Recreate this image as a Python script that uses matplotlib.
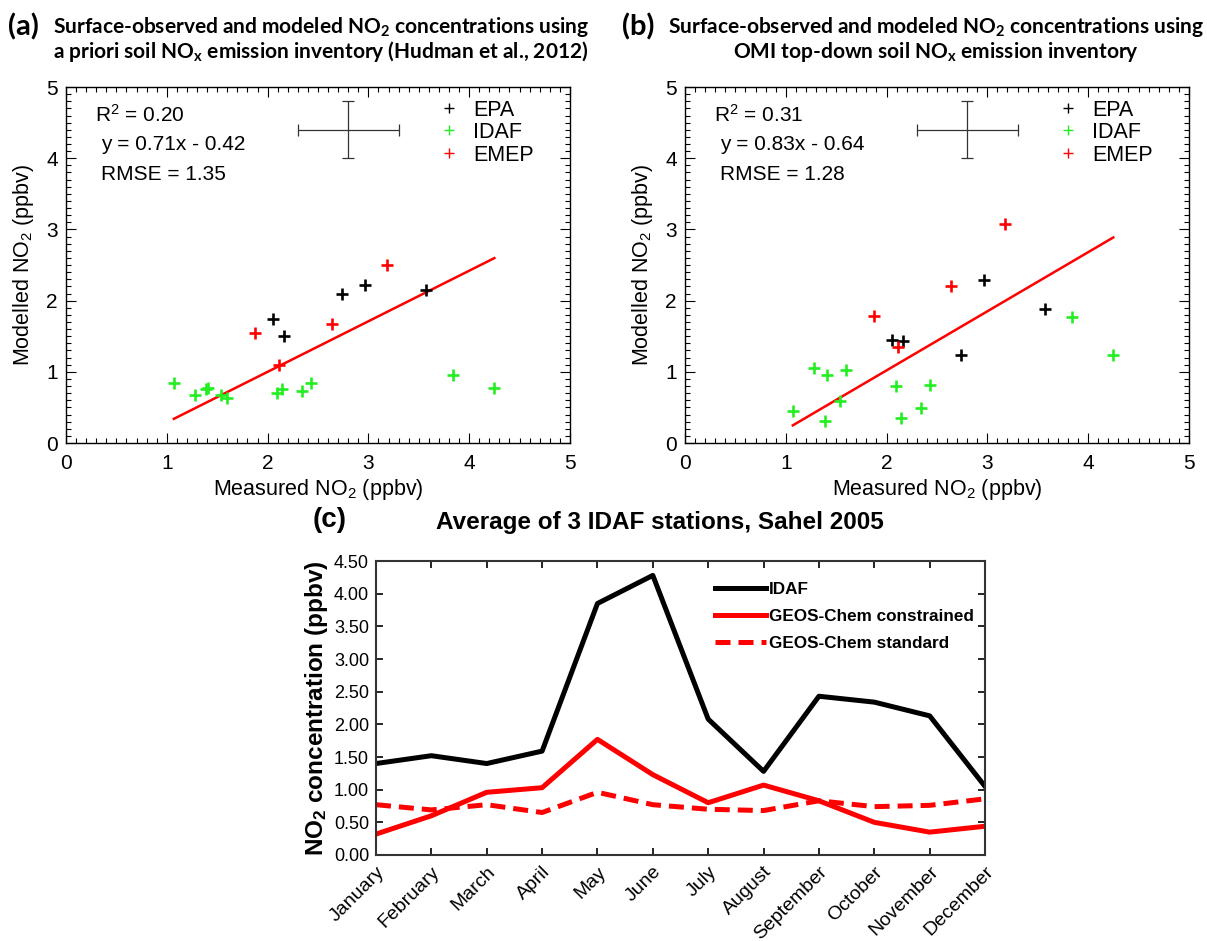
"""Surface-observed vs modelled NO2 over the Sahel: two scatter panels and a monthly series."""

import matplotlib

matplotlib.use("Agg")

import matplotlib.pyplot as plt
from matplotlib.ticker import MultipleLocator, FormatStrFormatter
import numpy as np

plt.rcParams["font.family"] = ["Liberation Sans", "DejaVu Sans"]

# ---- panel (a)/(b) data: measured x, modelled y per network ----
EPA_X = [2.05, 2.16, 2.74, 2.97, 3.57]
EPA_A = [1.74, 1.50, 2.09, 2.22, 2.15]
EPA_B = [1.45, 1.44, 1.24, 2.29, 1.88]

EMEP_X = [1.88, 2.11, 2.64, 3.18]
EMEP_A = [1.54, 1.10, 1.67, 2.50]
EMEP_B = [1.79, 1.35, 2.21, 3.07]

IDAF_X = [1.07, 1.28, 1.39, 1.41, 1.54, 1.60, 2.09, 2.14, 2.34, 2.43, 3.84, 4.25]
IDAF_A = [0.85, 0.67, 0.76, 0.77, 0.67, 0.63, 0.70, 0.76, 0.73, 0.84, 0.96, 0.77]
IDAF_B = [0.45, 1.06, 0.31, 0.96, 0.59, 1.03, 0.80, 0.35, 0.49, 0.82, 1.77, 1.24]

FIT_A = (0.71, -0.42)
FIT_B = (0.83, -0.64)
STATS_A = ("0.20", "y = 0.71x - 0.42", "RMSE = 1.35")
STATS_B = ("0.31", "y = 0.83x - 0.64", "RMSE = 1.28")

# typical uncertainty cross
ERR_CENTER = (2.80, 4.40)
ERR_X, ERR_Y = 0.5, 0.40

# ---- panel (c) data ----
MONTHS = ["January", "February", "March", "April", "May", "June", "July",
          "August", "September", "October", "November", "December"]
IDAF_MONTHLY = [1.40, 1.52, 1.40, 1.59, 3.85, 4.28, 2.08, 1.28, 2.43, 2.34, 2.13, 1.05]
GC_CONSTRAINED = [0.32, 0.60, 0.96, 1.03, 1.77, 1.23, 0.80, 1.07, 0.83, 0.50, 0.35, 0.44]
GC_STANDARD = [0.77, 0.69, 0.77, 0.65, 0.96, 0.77, 0.70, 0.68, 0.83, 0.74, 0.76, 0.86]

GREEN = "#22ee22"
RED = "#ff0000"
TITLE_FONT = ["Lato", "DejaVu Sans"]
NO2 = r"NO$\mathregular{_2}$"
NOX = r"NO$\mathregular{_x}$"
FS = 15  # text size inside the scatter panels


def scatter_panel(ax, y_epa, y_idaf, y_emep, fit, stats):
    all_x = np.array(EPA_X + IDAF_X + EMEP_X)
    fit_x = np.array([all_x.min(), all_x.max()])
    ax.plot(fit_x, fit[0] * fit_x + fit[1], color=RED, lw=1.8, zorder=2)

    kw = dict(linestyle="none", marker="+", ms=9, mew=1.9, zorder=3)
    ax.plot(EPA_X, y_epa, color="black", label="EPA", **kw)
    ax.plot(IDAF_X, y_idaf, color=GREEN, label="IDAF", **kw)
    ax.plot(EMEP_X, y_emep, color=RED, label="EMEP", **kw)

    ax.errorbar(ERR_CENTER[0], ERR_CENTER[1], xerr=ERR_X, yerr=ERR_Y,
                color="#333333", lw=0.9, capsize=4, capthick=0.9)

    leg = ax.legend(loc="upper left", bbox_to_anchor=(0.739, 0.965), frameon=False,
                    fontsize=15.5, handlelength=1.0, handletextpad=0.62,
                    labelspacing=0.07, borderpad=0, borderaxespad=0)
    for h in leg.legend_handles:
        h.set_markersize(7)
        h.set_markeredgewidth(1.0)

    ax.text(0.29, 4.61, r"R$\mathregular{^2}$ = " + stats[0], fontsize=FS, va="center")
    ax.text(0.345, 4.19, stats[1], fontsize=FS, va="center")
    ax.text(0.345, 3.77, stats[2], fontsize=FS, va="center")

    ax.set_xlim(0, 5)
    ax.set_ylim(0, 5)
    ax.xaxis.set_major_locator(MultipleLocator(1))
    ax.yaxis.set_major_locator(MultipleLocator(1))
    ax.xaxis.set_minor_locator(MultipleLocator(0.1))
    ax.yaxis.set_minor_locator(MultipleLocator(0.1))
    ax.tick_params(which="both", direction="in", top=True, right=True, labelsize=FS, width=0.8)
    ax.tick_params(which="major", length=7)
    ax.tick_params(which="minor", length=3.5)
    ax.tick_params(axis="x", pad=8)
    ax.tick_params(axis="y", pad=6)
    ax.set_xlabel("Measured " + NO2 + " (ppbv)", fontsize=15.5, labelpad=3)
    ax.set_ylabel("Modelled " + NO2 + " (ppbv)", fontsize=15.5, labelpad=7)
    for s in ax.spines.values():
        s.set_linewidth(1.0)


fig = plt.figure(figsize=(12.07, 9.41), dpi=100)

ax_a = fig.add_axes((0.0547, 0.5292, 0.4175, 0.3783))
ax_b = fig.add_axes((0.5675, 0.5292, 0.4175, 0.3783))
scatter_panel(ax_a, EPA_A, IDAF_A, EMEP_A, FIT_A, STATS_A)
scatter_panel(ax_b, EPA_B, IDAF_B, EMEP_B, FIT_B, STATS_B)

title_kw = dict(fontsize=15, fontweight="bold", ha="center", va="center", family=TITLE_FONT)
fig.text(0.0066, 0.971, "(a)", fontsize=21, fontweight="bold", va="center", family=TITLE_FONT)
fig.text(0.266, 0.971, "Surface-observed and modeled " + NO2 + " concentrations using", **title_kw)
fig.text(0.266, 0.945, "a priori soil " + NOX + " emission inventory (Hudman et al., 2012)", **title_kw)
fig.text(0.515, 0.971, "(b)", fontsize=21, fontweight="bold", va="center", family=TITLE_FONT)
fig.text(0.7755, 0.971, "Surface-observed and modeled " + NO2 + " concentrations using", **title_kw)
fig.text(0.7755, 0.945, "OMI top-down soil " + NOX + " emission inventory", **title_kw)

# ---- panel (c) ----
ax_c = fig.add_axes((0.3115, 0.0914, 0.5046, 0.3124))
xm = np.arange(len(MONTHS))
ax_c.plot(xm, IDAF_MONTHLY, color="black", lw=3.6, label="IDAF")
ax_c.plot(xm, GC_CONSTRAINED, color=RED, lw=3.6, label="GEOS-Chem constrained")
ax_c.plot(xm, GC_STANDARD, color=RED, lw=3.6, dashes=(3.0, 1.6), label="GEOS-Chem standard")
ax_c.set_xlim(0, len(MONTHS) - 1)
ax_c.set_ylim(0, 4.5)
ax_c.set_xticks(xm)
ax_c.set_xticklabels(MONTHS, rotation=45, ha="right", rotation_mode="anchor", fontsize=14)
ax_c.yaxis.set_major_locator(MultipleLocator(0.5))
ax_c.yaxis.set_major_formatter(FormatStrFormatter("%.2f"))
ax_c.tick_params(direction="in", top=True, right=True, length=5, width=1.2)
ax_c.tick_params(axis="y", labelsize=13, pad=5)
ax_c.tick_params(axis="x", pad=6)
for s in ax_c.spines.values():
    s.set_linewidth(1.5)
    s.set_color("#333333")
ax_c.set_ylabel(NO2 + " concentration (ppbv)", fontsize=17.5, fontweight="bold", labelpad=3)
ax_c.legend(loc="upper left", bbox_to_anchor=(0.5567, 0.93), frameon=False,
            handlelength=3.0, handletextpad=0.15, labelspacing=0.7,
            borderpad=0, borderaxespad=0,
            prop={"weight": "bold", "size": 12.3})

fig.text(0.259, 0.4474, "(c)", fontsize=20, fontweight="bold", va="center")
fig.text(0.547, 0.445, "Average of 3 IDAF stations, Sahel 2005", fontsize=17.5,
         fontweight="bold", ha="center", va="center")

fig.savefig("out.png", dpi=100)
